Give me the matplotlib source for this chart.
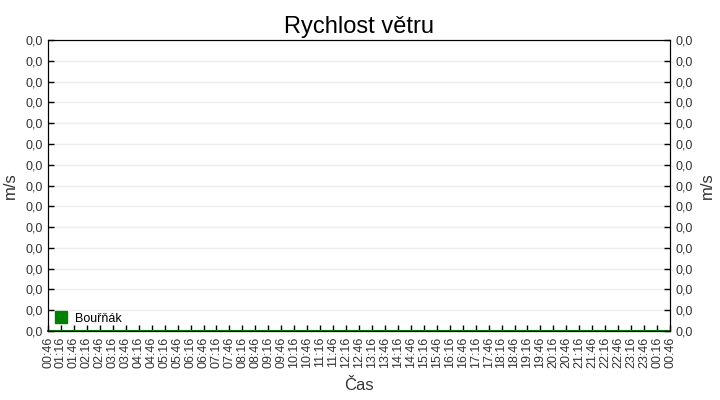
import matplotlib
matplotlib.use("Agg")
import matplotlib.pyplot as plt
from matplotlib.ticker import FuncFormatter

plt.rcParams['font.family'] = ['Liberation Sans', 'DejaVu Sans']

casy = ['00:46', '01:16', '01:46', '02:16', '02:46', '03:16', '03:46', '04:16', '04:46',
        '05:16', '05:46', '06:16', '06:46', '07:16', '07:46', '08:16', '08:46', '09:16',
        '09:46', '10:16', '10:46', '11:16', '11:46', '12:16', '12:46', '13:16', '13:46',
        '14:16', '14:46', '15:16', '15:46', '16:16', '16:46', '17:16', '17:46', '18:16',
        '18:46', '19:16', '19:46', '20:16', '20:46', '21:16', '21:46', '22:16', '22:46',
        '23:16', '23:46', '00:16', '00:46']
rychlost = [0.0, 0.0, 0.0, 0.0, 0.0, 0.0, 0.0, 0.0, 0.0, 0.0, 0.0, 0.0, 0.0, 0.0, 0.0,
            0.0, 0.0, 0.0, 0.0, 0.0, 0.0, 0.0, 0.0, 0.0, 0.0, 0.0, 0.0, 0.0, 0.0, 0.0,
            0.0, 0.0, 0.0, 0.0, 0.0, 0.0, 0.0, 0.0, 0.0, 0.0, 0.0, 0.0, 0.0, 0.0, 0.0,
            0.0, 0.0, 0.0, 0.0]
y_ticky = [i * 0.001 for i in range(15)]

fig = plt.figure(figsize=(7.2, 4), dpi=100)
ax = fig.add_axes([48 / 720, 1 - 331 / 400, 622 / 720, 291 / 400])
x = list(range(len(casy)))

ax.plot(x, rychlost, color='green', lw=1.5, clip_on=False, zorder=5, label='Bouřňák')
ax.set_xlim(0, len(casy) - 1)
ax.set_ylim(0, 0.014)

fmt = FuncFormatter(lambda v, p: f"{v:.1f}".replace('.', ','))
ax.set_yticks(y_ticky)
ax.yaxis.set_major_formatter(fmt)
ax.set_xticks(x)
ax.set_xticklabels(casy, rotation=90)
ax.grid(axis='y', color='#eeeeee', lw=1)
ax.set_axisbelow(True)

for s in ax.spines.values():
    s.set_color('black')
ax.tick_params(direction='in', length=4, width=1, labelsize=9, labelcolor='#333333', pad=4)

ax2 = ax.twinx()
ax2.set_ylim(0, 0.014)
ax2.set_yticks(y_ticky)
ax2.yaxis.set_major_formatter(fmt)
ax2.tick_params(direction='in', length=4, width=1, labelsize=9, labelcolor='#333333', pad=4)

ax.set_ylabel('m/s', fontsize=12, color='#333333', labelpad=5)
ax2.set_ylabel('m/s', fontsize=12, color='#333333', labelpad=5)
ax.set_xlabel('Čas', fontsize=12, color='#333333', labelpad=7)
ax.set_title('Rychlost větru', fontsize=17, pad=5)

h = [plt.Line2D([], [], marker='s', ls='', color='green', markersize=9)]
ax.legend(h, ['Bouřňák'], loc='lower left', frameon=False, fontsize=9,
          handletextpad=0.6, handlelength=1.2, borderaxespad=0.0,
          bbox_to_anchor=(0.0, 0.005))

fig.savefig('out.png', dpi=100)
